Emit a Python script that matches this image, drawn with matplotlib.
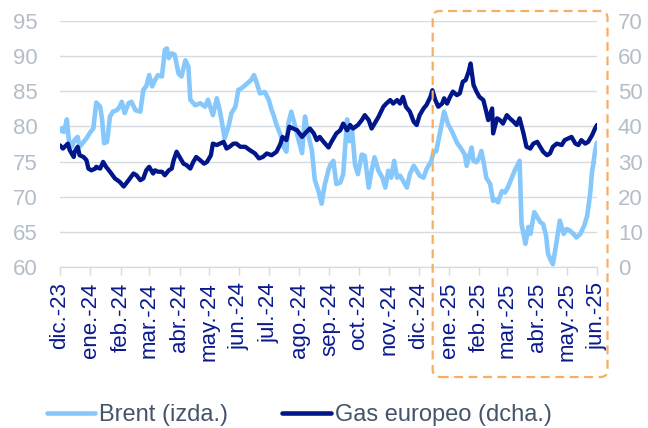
import pandas as pd
import matplotlib
matplotlib.use("Agg")
import matplotlib.pyplot as plt
from matplotlib.patches import FancyBboxPatch

plt.rcParams["font.family"] = ["Liberation Sans", "DejaVu Sans"]

# days since 1 Dec 2023
start = pd.Timestamp("2023-12-01")

brent_days = [0, 2, 4, 7, 9, 12, 15, 18, 20, 24, 27, 31, 34, 37, 41, 43, 45, 48, 51, 54,
              58, 61, 63, 66, 70, 73, 77, 82, 85, 88, 91, 94, 97, 100, 104, 107, 109, 111, 114, 117,
              121, 124, 128, 131, 133, 138, 143, 148, 151, 156, 160, 163, 166, 168, 172, 175, 179, 182, 185, 191,
              195, 198, 201, 204, 209, 213, 216, 218, 221, 225, 228, 231, 233, 236, 240, 243, 247, 250, 253, 257,
              260, 264, 267, 270, 274, 276, 279, 282, 286, 289, 293, 295, 298, 301, 304, 308, 311, 315, 318, 321,
              325, 329, 332, 335, 338, 341, 344, 347, 350, 354, 357, 361, 364, 367, 371, 374, 379, 381, 384, 388,
              392, 396, 400, 405, 410, 413, 415, 418, 420, 422, 425, 428, 430, 433, 435, 439, 442, 445, 447, 451,
              454, 457, 461, 464, 469, 471, 475, 478, 480, 484, 487, 490, 493, 496, 498, 501, 503, 507, 510, 514,
              517, 520, 524, 527, 531, 535, 538, 541, 543, 544, 546, 548]
brent = [79.3, 79.7, 79.2, 81.0, 78.1, 77.1, 78.1, 78.5, 77.1, 77.8, 78.3, 79.2, 79.7, 83.4, 82.8, 80.9, 77.6, 77.8, 81.4, 82.1,
         82.3, 82.8, 83.5, 81.9, 83.3, 83.5, 82.3, 82.1, 85.2, 85.7, 87.3, 85.7, 86.6, 87.3, 87.1, 90.9, 91.1, 89.7, 90.4, 90.2,
         87.5, 87.1, 89.4, 88.5, 83.8, 83.0, 83.3, 82.8, 83.8, 81.6, 84.0, 82.3, 80.0, 78.3, 80.0, 81.9, 82.8, 85.2, 85.4, 86.1,
         86.6, 87.3, 86.1, 84.7, 84.9, 83.8, 82.3, 81.6, 80.2, 78.8, 77.1, 76.4, 80.4, 82.1, 80.0, 78.3, 76.2, 81.4, 79.0, 76.6,
         72.4, 70.7, 69.0, 71.6, 73.8, 74.6, 75.1, 71.8, 72.0, 73.2, 81.0, 77.9, 79.6, 74.6, 73.2, 76.0, 75.8, 71.3, 73.7, 75.6,
         73.7, 72.7, 71.3, 73.7, 72.7, 75.1, 72.7, 73.0, 72.3, 71.3, 73.2, 74.4, 73.7, 73.0, 72.7, 73.9, 75.1, 76.3, 76.5, 79.3,
         82.1, 80.3, 79.3, 77.7, 76.7, 76.0, 74.4, 76.0, 77.0, 75.1, 74.9, 75.6, 76.5, 74.4, 72.7, 71.8, 69.4, 69.6, 69.2, 70.8,
         70.6, 71.3, 72.7, 73.7, 75.1, 66.1, 63.3, 65.7, 64.7, 67.8, 67.1, 66.4, 66.1, 64.5, 61.9, 60.9, 60.4, 63.8, 66.6, 64.7,
         65.4, 65.2, 64.7, 64.2, 64.7, 65.9, 67.3, 70.4, 73.7, 74.4, 76.5, 77.7]

gas_days = [0, 3, 8, 10, 14, 15, 18, 20, 24, 27, 29, 32, 36, 37, 41, 44, 47, 51, 56, 61,
            65, 70, 75, 78, 82, 85, 88, 91, 95, 97, 100, 104, 107, 111, 114, 116, 119, 122, 126, 129,
            133, 136, 139, 143, 147, 150, 154, 156, 160, 163, 167, 170, 173, 177, 180, 184, 189, 194, 199, 203,
            207, 211, 216, 221, 225, 227, 231, 234, 238, 242, 247, 250, 255, 259, 262, 265, 269, 274, 277, 282,
            286, 289, 293, 296, 299, 304, 308, 311, 315, 318, 321, 325, 330, 333, 337, 340, 344, 347, 350, 353,
            357, 361, 364, 367, 371, 374, 378, 380, 383, 386, 390, 392, 395, 398, 401, 405, 408, 411, 414, 417,
            419, 422, 425, 428, 432, 435, 437, 441, 442, 446, 449, 452, 456, 459, 463, 466, 469, 473, 476, 480,
            483, 487, 490, 493, 497, 500, 503, 507, 512, 515, 519, 522, 526, 529, 532, 536, 539, 543, 546, 548]
gas = [34.6, 33.7, 35.1, 33.2, 31.3, 32.8, 34.2, 31.8, 31.3, 30.4, 28.0, 27.5, 28.0, 28.5, 28.0, 29.9, 28.5, 27.1, 25.2, 24.2,
       22.9, 24.7, 26.6, 26.1, 24.7, 25.2, 27.5, 28.5, 26.6, 27.5, 27.1, 27.1, 26.1, 27.5, 28.0, 30.4, 32.8, 31.3, 29.4, 29.0,
       28.0, 29.9, 31.3, 30.4, 29.4, 29.9, 31.8, 35.1, 34.7, 35.1, 35.6, 33.7, 34.2, 35.1, 35.1, 34.2, 34.2, 33.2, 32.3, 30.9,
       31.3, 32.3, 31.8, 32.8, 35.1, 37.0, 36.1, 39.9, 39.4, 38.9, 37.0, 38.0, 39.4, 38.0, 36.1, 37.0, 35.6, 34.0, 35.6, 38.0,
       38.9, 40.8, 38.9, 40.4, 39.4, 40.4, 41.8, 43.2, 41.8, 39.4, 40.8, 42.7, 45.6, 46.5, 47.5, 46.5, 47.5, 46.5, 48.4, 45.6,
       44.2, 41.3, 40.4, 43.2, 45.1, 46.1, 48.4, 50.3, 47.5, 45.6, 46.5, 48.0, 46.5, 48.4, 49.9, 48.9, 49.4, 52.7, 53.2, 55.6,
       57.9, 51.8, 49.9, 48.4, 47.5, 44.2, 41.8, 45.1, 38.0, 42.3, 41.8, 40.8, 43.2, 42.3, 41.3, 40.4, 42.3, 38.0, 34.2, 33.7,
       35.1, 35.6, 34.2, 32.8, 31.8, 32.3, 34.2, 35.1, 34.7, 36.1, 36.6, 37.0, 35.1, 34.7, 36.1, 35.1, 35.6, 37.5, 39.4, 40.4]

month_labels = ["dic.-23", "ene.-24", "feb.-24", "mar.-24", "abr.-24", "may.-24", "jun.-24",
                "jul.-24", "ago.-24", "sep.-24", "oct.-24", "nov.-24", "dic.-24", "ene.-25",
                "feb.-25", "mar.-25", "abr.-25", "may.-25", "jun.-25"]

brent_dates = start + pd.to_timedelta(brent_days, unit="D")
gas_dates = start + pd.to_timedelta(gas_days, unit="D")
month_ticks = pd.date_range(start, periods=len(month_labels), freq="MS")

light = "#86c8fb"
navy = "#001689"
grey_txt = "#b4bec9"
grid_col = "#d6dbe2"

fig = plt.figure(figsize=(6.48, 4.28), dpi=100)
ax = fig.add_axes([0.0926, 0.3762, 0.8287, 0.5748])
ax2 = ax.twinx()

ax.plot(brent_dates, brent, color=light, lw=3.3, solid_capstyle="round",
        solid_joinstyle="round", label="Brent (izda.)")
ax2.plot(gas_dates, gas, color=navy, lw=3.1, solid_capstyle="round",
         solid_joinstyle="round", label="Gas europeo (dcha.)")

ax.set_xlim(month_ticks[0], month_ticks[-1])
ax.set_ylim(60, 95)
ax2.set_ylim(0, 70)
ax.set_yticks(range(60, 96, 5))
ax2.set_yticks(range(0, 71, 10))

ax.set_xticks(month_ticks)
ax.set_xticklabels(month_labels, rotation=90)
ax.tick_params(axis="x", colors=grid_col, length=6, width=1, pad=5, labelsize=16,
               labelcolor="#0a1a8c")
ax.tick_params(axis="y", length=0, pad=16, labelsize=16, labelcolor=grey_txt)
ax2.tick_params(axis="y", length=0, pad=15, labelsize=16, labelcolor=grey_txt)

ax.grid(axis="y", color=grid_col, lw=1)
ax.set_axisbelow(True)
for a in (ax, ax2):
    for side in ("left", "right", "top"):
        a.spines[side].set_visible(False)
    a.spines["bottom"].set_color(grid_col)

# highlight box for 2025
box = FancyBboxPatch((4.327, 0.51), 1.748, 3.66,
                     boxstyle="round,pad=0,rounding_size=0.07",
                     transform=fig.dpi_scale_trans, fill=False,
                     edgecolor="#f9ad62", lw=1.6, linestyle=(0, (4, 2.5)), zorder=10)
fig.add_artist(box)

h1, l1 = ax.get_legend_handles_labels()
h2, l2 = ax2.get_legend_handles_labels()
leg = fig.legend(h1 + h2, l1 + l2, loc="center left", bbox_to_anchor=(0.072, 0.03),
                 ncol=2, frameon=False, fontsize=17, handlelength=2.05, handletextpad=0.17,
                 columnspacing=2.3, borderpad=0, borderaxespad=0, labelcolor="#44546a")
for line in leg.get_lines():
    line.set_linewidth(3.3)

fig.savefig("out.png", dpi=100)
